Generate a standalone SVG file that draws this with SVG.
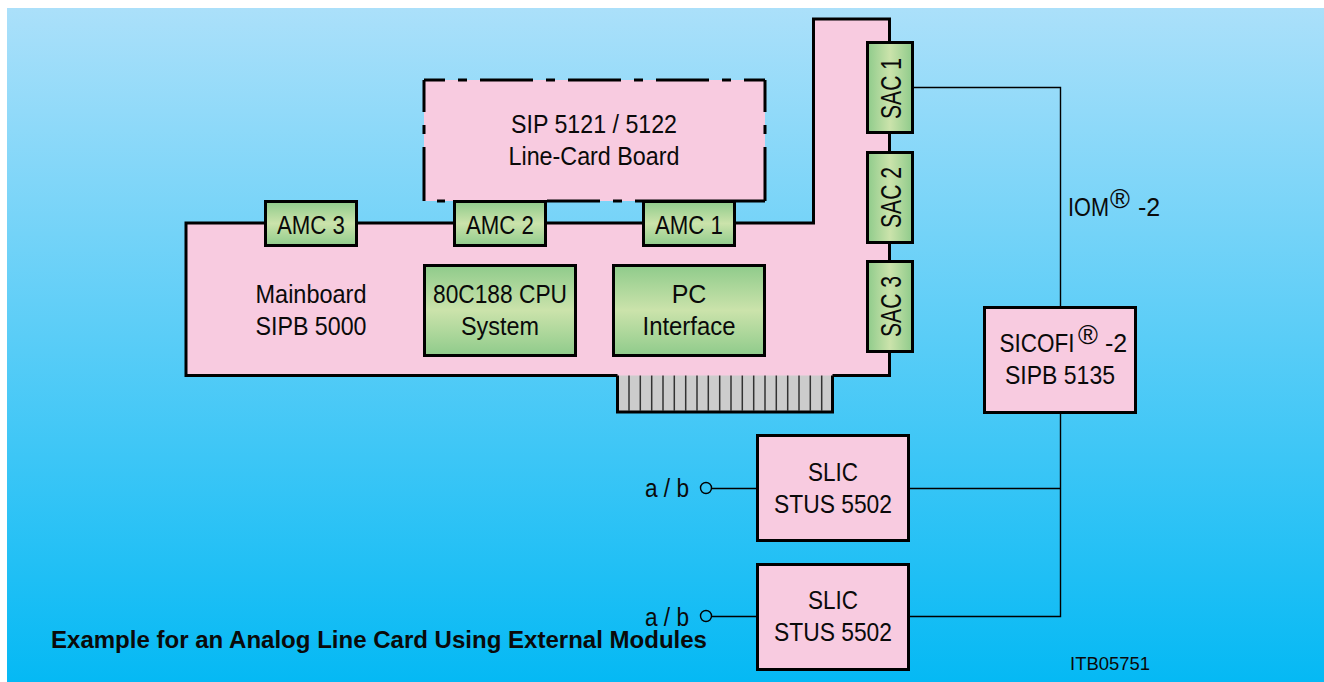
<svg xmlns="http://www.w3.org/2000/svg" width="1324" height="682" viewBox="0 0 1324 682">
<style>
text{font-family:"Liberation Sans",Arial,sans-serif;font-size:25px;fill:#0a0a0a;text-anchor:middle}
.board{fill:#f8cbe0;stroke:#000;stroke-width:3}
.pink{fill:#f8cbe0}
.edge{stroke:#000;stroke-width:3;fill:none}
.mod{stroke:#000;stroke-width:3}
.h{fill:url(#gv)}
.v{fill:url(#gh)}
.wire{stroke:#000;stroke-width:1.4;fill:none}
.finger{stroke:#333;stroke-width:1.5}
.sac{font-size:29px}
.reg{font-size:27px}
</style>
<defs>
<linearGradient id="bg" x1="0" y1="0" x2="0" y2="1"><stop offset="0" stop-color="#abe0fa"/><stop offset="1" stop-color="#05b9f4"/></linearGradient>
<linearGradient id="gv" x1="0" y1="0" x2="0" y2="1"><stop offset="0" stop-color="#8fcb8b"/><stop offset=".5" stop-color="#cbe3ab"/><stop offset="1" stop-color="#8fcb8b"/></linearGradient>
<linearGradient id="gh" x1="0" y1="0" x2="1" y2="0"><stop offset="0" stop-color="#8fcb8b"/><stop offset=".5" stop-color="#cbe3ab"/><stop offset="1" stop-color="#8fcb8b"/></linearGradient>
</defs>
<rect x="7" y="8" width="1317" height="674" fill="url(#bg)"/>
<g id="line-card-board">
<rect class="pink" x="424" y="80" width="341" height="121"/>
<path class="edge" d="M424 80H445M458 80H467M480 80H533M546 80H555M568 80H621M634 80H643M656 80H709M722 80H731M744 80H765M765 80V112M765 125V134M765 147V201M765 201H635M622 201H613M600 201H547M445 201H437M424 201V147M424 134V125M424 112V80"/>
<text x="594" y="133" textLength="166" lengthAdjust="spacingAndGlyphs">SIP 5121 / 5122</text>
<text x="594" y="165" textLength="171" lengthAdjust="spacingAndGlyphs">Line-Card Board</text>
</g>
<g id="edge-connector">
<path d="M617.500 375V412H832.500V375" fill="#ccc" stroke="#000" stroke-width="3"/>
<path class="finger" d="M629 375V411M640.300 375V411M651.700 375V411M663 375V411M674.300 375V411M685.700 375V411M697 375V411M708.300 375V411M719.700 375V411M731 375V411M742.300 375V411M753.700 375V411M765 375V411M776.300 375V411M787.700 375V411M799 375V411M810.300 375V411M821.700 375V411"/>
</g>
<g id="mainboard">
<path class="pink" d="M186 223H813.500V19H889.500V375.500H186Z"/>
<path class="edge" d="M617.500 375.500H186V223H813.500V19H889.500V375.500H832.500"/>
<text x="311" y="303" textLength="111" lengthAdjust="spacingAndGlyphs">Mainboard</text>
<text x="311" y="335" textLength="111" lengthAdjust="spacingAndGlyphs">SIPB 5000</text>
</g>
<g id="amc3"><rect class="mod h" x="265.500" y="201.500" width="91" height="44"/><text x="311" y="234" textLength="68" lengthAdjust="spacingAndGlyphs">AMC 3</text></g>
<g id="amc2"><rect class="mod h" x="454.500" y="201.500" width="91" height="44"/><text x="500" y="234" textLength="68" lengthAdjust="spacingAndGlyphs">AMC 2</text></g>
<g id="amc1"><rect class="mod h" x="643.500" y="201.500" width="91" height="44"/><text x="689" y="234" textLength="68" lengthAdjust="spacingAndGlyphs">AMC 1</text></g>
<g id="cpu"><rect class="mod h" x="424.500" y="265.500" width="151" height="90"/><text x="500" y="303" textLength="134" lengthAdjust="spacingAndGlyphs">80C188 CPU</text><text x="500" y="335" textLength="78" lengthAdjust="spacingAndGlyphs">System</text></g>
<g id="pc-interface"><rect class="mod h" x="613.500" y="265.500" width="151" height="90"/><text x="689" y="303">PC</text><text x="689" y="335" textLength="93" lengthAdjust="spacingAndGlyphs">Interface</text></g>
<g id="sac1"><rect class="mod v" x="867.500" y="42.500" width="45" height="90"/><text class="sac" transform="translate(900.500 88.500) rotate(-90)" textLength="61" lengthAdjust="spacingAndGlyphs">SAC 1</text></g>
<g id="sac2"><rect class="mod v" x="867.500" y="152.500" width="45" height="90"/><text class="sac" transform="translate(900.500 197.500) rotate(-90)" textLength="61" lengthAdjust="spacingAndGlyphs">SAC 2</text></g>
<g id="sac3"><rect class="mod v" x="867.500" y="261.500" width="45" height="90"/><text class="sac" transform="translate(900.500 306.500) rotate(-90)" textLength="61" lengthAdjust="spacingAndGlyphs">SAC 3</text></g>
<g id="connectors">
<path class="wire" d="M912 87.500H1060.500V307M1060.500 413V616.500H909M909 488.500H1060.500M712 488.500H757M712 616.500H757"/>
<circle class="wire" cx="706" cy="488" r="5.500"/>
<circle class="wire" cx="706" cy="616" r="5.500"/>
</g>
<g id="sicofi"><rect class="board" x="984.500" y="307.500" width="151" height="105"/>
<text x="1037" y="352" textLength="75" lengthAdjust="spacingAndGlyphs">SICOFI</text><text class="reg" x="1088" y="344">®</text><text x="1116" y="352">-2</text>
<text x="1060" y="384" textLength="110" lengthAdjust="spacingAndGlyphs">SIPB 5135</text></g>
<g id="slic1"><rect class="board" x="757.500" y="435.500" width="151" height="105"/><text x="833" y="481" textLength="50" lengthAdjust="spacingAndGlyphs">SLIC</text><text x="833" y="513" textLength="118" lengthAdjust="spacingAndGlyphs">STUS 5502</text></g>
<g id="slic2"><rect class="board" x="757.500" y="564.500" width="151" height="105"/><text x="833" y="609" textLength="50" lengthAdjust="spacingAndGlyphs">SLIC</text><text x="833" y="641" textLength="118" lengthAdjust="spacingAndGlyphs">STUS 5502</text></g>
<text x="1088.500" y="215.500" textLength="41" lengthAdjust="spacingAndGlyphs">IOM</text>
<text class="reg" x="1120" y="208">®</text>
<text x="1149" y="215.500">-2</text>
<text x="667" y="497" textLength="44" lengthAdjust="spacingAndGlyphs">a / b</text>
<text x="667" y="626" textLength="44" lengthAdjust="spacingAndGlyphs">a / b</text>
<text x="379" y="648" style="font-size:23.500px;font-weight:bold" textLength="656" lengthAdjust="spacingAndGlyphs">Example for an Analog Line Card Using External Modules</text>
<text x="1110" y="670" style="font-size:18px" textLength="80" lengthAdjust="spacingAndGlyphs">ITB05751</text>
</svg>
